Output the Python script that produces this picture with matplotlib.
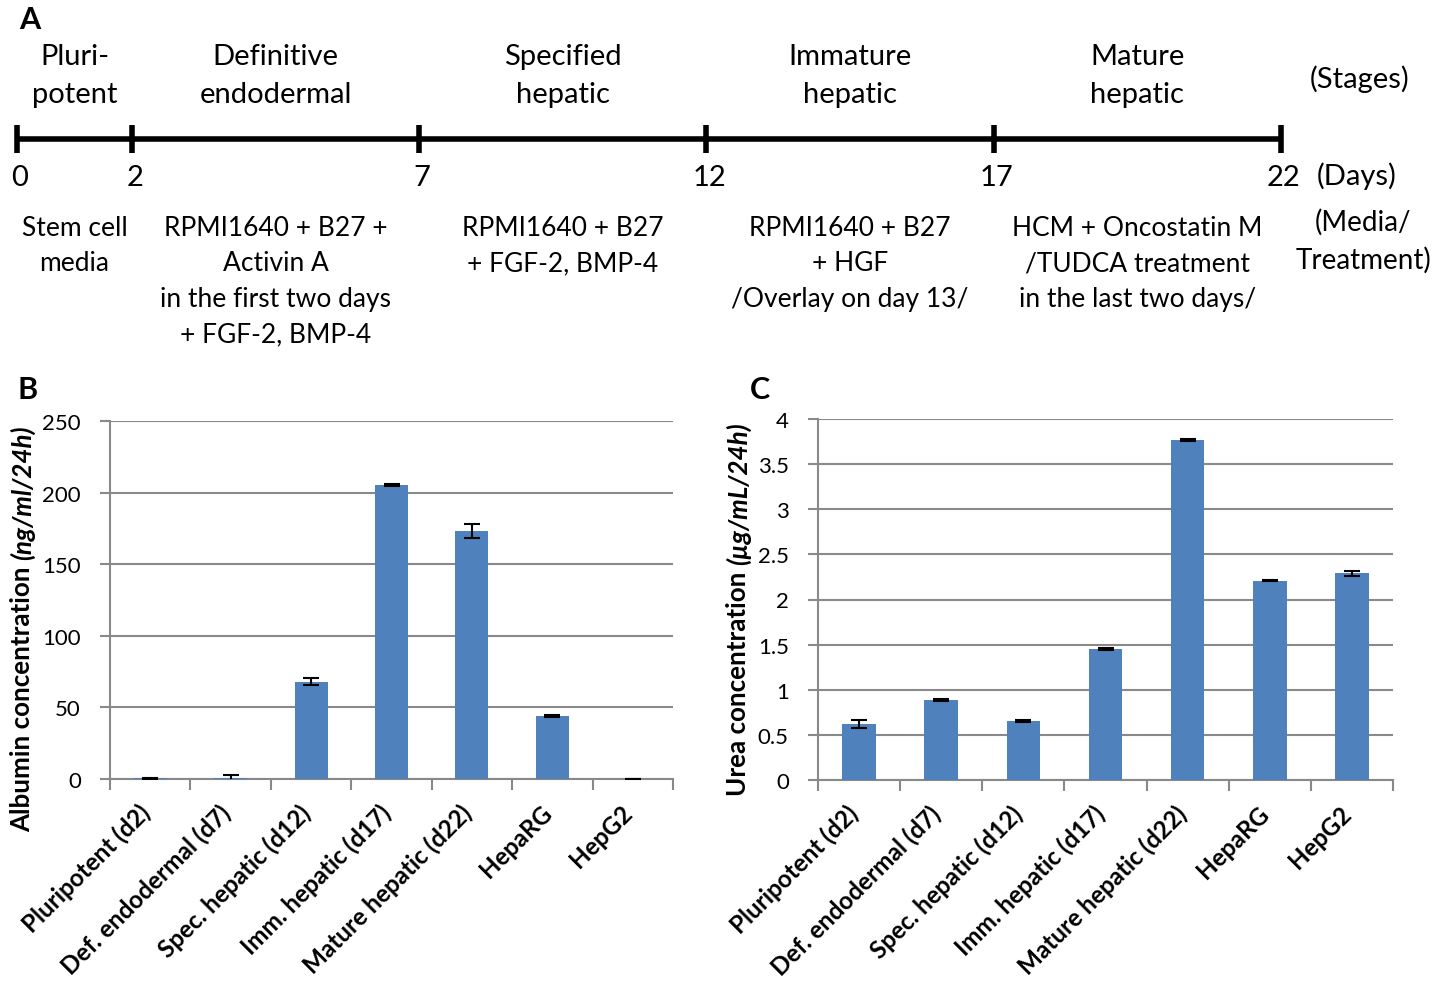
import numpy as np
import matplotlib
matplotlib.use("Agg")
import matplotlib.pyplot as plt

plt.rcParams['font.family'] = ['Lato', 'DejaVu Sans']

W, H = 1449, 987

# panel A: timeline
days = [0, 2, 7, 12, 17, 22]
stages = ["Pluri-\npotent", "Definitive\nendodermal", "Specified\nhepatic",
          "Immature\nhepatic", "Mature\nhepatic"]
media = ["Stem cell\nmedia",
         "RPMI1640 + B27 +\nActivin A\nin the first two days\n+ FGF-2, BMP-4",
         "RPMI1640 + B27\n+ FGF-2, BMP-4",
         "RPMI1640 + B27\n+ HGF\n/Overlay on day 13/",
         "HCM + Oncostatin M\n/TUDCA treatment\nin the last two days/"]

# panels B and C
groups = ["Pluripotent (d2)", "Def. endodermal (d7)", "Spec. hepatic (d12)",
          "Imm. hepatic (d17)", "Mature hepatic (d22)", "HepaRG", "HepG2"]
albumin = [0.4, 0.8, 68, 205, 173, 44, 0]
albumin_err = [0.3, 2.2, 2.5, 0.7, 5, 0.5, 0]
urea = [0.62, 0.89, 0.65, 1.45, 3.77, 2.21, 2.29]
urea_err = [0.045, 0.01, 0.01, 0.01, 0.01, 0.01, 0.025]

BAR = '#4F81BD'
GRID = '#898989'


def px(x, y):
    return x / W, 1 - y / H


fig = plt.figure(figsize=(W / 100, H / 100), dpi=100)

# timeline axes: x in days, y in image pixels
day_px = 57.45
axT = fig.add_axes([0, 0, 1, 1])
axT.set_xlim(-17 / day_px, (W - 17) / day_px)
axT.set_ylim(H, 0)
axT.axis('off')
axT.plot([days[0], days[-1]], [140, 140], color='black', lw=4, solid_capstyle='butt')
axT.vlines(days, 126, 154, color='black', lw=4)
for d in days:
    axT.text(d + 0.05, 178, str(d), ha='center', va='center', fontsize=21)
for i, s in enumerate(stages):
    mid = (days[i] + days[i + 1]) / 2
    axT.text(mid, 76, s, ha='center', va='center', fontsize=21, linespacing=1.55)
for i, m in enumerate(media):
    mid = (days[i] + days[i + 1]) / 2
    axT.text(mid, 216, m, ha='center', va='top', fontsize=19, linespacing=1.52)

fig.text(*px(1360, 79), "(Stages)", ha='center', va='center', fontsize=21)
fig.text(*px(1357, 176), "(Days)", ha='center', va='center', fontsize=21)
fig.text(*px(1363, 241), "(Media/\nTreatment)", ha='center', va='center',
         fontsize=20, linespacing=1.5)

fig.text(*px(30, 20), "A", ha='center', va='center', fontsize=22, fontweight='bold')
fig.text(*px(28, 390), "B", ha='center', va='center', fontsize=22, fontweight='bold')
fig.text(*px(760, 390), "C", ha='center', va='center', fontsize=22, fontweight='bold')


def bar_panel(rect, vals, errs, ymax, step, fmt):
    ax = fig.add_axes(rect)
    x = np.arange(len(groups))
    ax.bar(x, vals, width=0.41, color=BAR, zorder=3)
    ax.errorbar(x, vals, yerr=errs, fmt='none', ecolor='black', elinewidth=1.5,
                capsize=6, capthick=1.5, zorder=4)
    ax.set_xlim(-0.5, len(groups) - 0.5)
    ax.set_ylim(0, ymax)
    yt = np.arange(0, ymax + step / 2, step)
    ax.set_yticks(yt)
    ax.set_yticklabels([fmt(v) for v in yt], fontsize=16)
    ax.yaxis.grid(True, color=GRID, lw=1.5, zorder=0)
    for s in ['top', 'right']:
        ax.spines[s].set_visible(False)
    for s in ['left', 'bottom']:
        ax.spines[s].set_color(GRID)
        ax.spines[s].set_linewidth(1.5)
    ax.tick_params(axis='y', length=7, width=1.5, color=GRID, pad=14)
    ax.set_xticks(np.arange(-0.5, len(groups), 1.0))
    ax.set_xticklabels([])
    ax.tick_params(axis='x', length=8, width=1.5, color=GRID)
    for i, g in enumerate(groups):
        ax.annotate(g, xy=(i, 0), xycoords='data', xytext=(-9, -15),
                    textcoords='offset points', rotation=45, rotation_mode='anchor',
                    ha='right', va='top', fontsize=17.5, fontweight='bold')
    return ax


bar_panel([110 / W, 1 - 780 / H, 563 / W, 358 / H], albumin, albumin_err, 250, 50,
          lambda v: f"{v:g}")
bar_panel([818 / W, 1 - 781 / H, 575 / W, 361 / H], urea, urea_err, 4, 0.5,
          lambda v: f"{v:g}")


def ylabel(xp, ybottom, plain, ital):
    t1 = fig.text(*px(xp, ybottom), plain, rotation=90, ha='center', va='bottom',
                  fontsize=18.7, fontweight='bold')
    fig.canvas.draw()
    bb = t1.get_window_extent()
    fig.text(xp / W, bb.y1 / H, ital, rotation=90, ha='center', va='bottom',
             fontsize=18.7, fontweight='bold', fontstyle='italic')


ylabel(22, 832, "Albumin concentration ", "(ng/ml/24h)")
ylabel(738, 796, "Urea concentration ", "(µg/mL/24h)")

fig.savefig("out.png", dpi=100, facecolor='white')
